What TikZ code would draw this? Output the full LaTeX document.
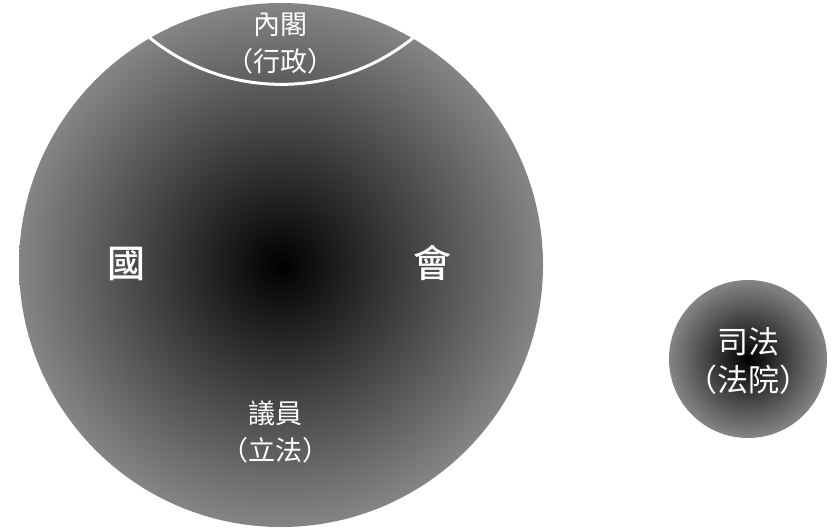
\documentclass[tikz,border=0pt]{standalone}
\usepackage{fontspec}
\setmainfont{Noto Sans CJK TC}
\newfontfamily\midfont{Noto Sans CJK TC Medium}
\usepackage{xcolor}
\definecolor{rimgray}{gray}{0.52}
\usepackage{tikz}

\tikzset{
  house/.style={circle, inner sep=0, draw=none, shade,
    inner color=black, outer color=rimgray},
  label/.style={text=white, align=center, font=\fontsize{27}{37}\selectfont},
  bigchar/.style={text=white, font=\midfont\fontsize{38}{40}\selectfont}
}

\begin{document}
\begin{tikzpicture}[x=1pt, y=-1pt]
    \useasboundingbox (0,0) rectangle (834,529);

    %  the diet, one big shaded disc
    \node [house, minimum size=524pt] (diet) at (281,265) {};

    %  cabinet cut off at the top
    \draw [white, line width=3pt] (diet.120.5)
      arc [start angle=231.1, end angle=308.9, radius=209.5pt];
    \node [label] (cabinet) at (280,43) {內閣\\（行政）};

    \node [bigchar] (guo) at (126,264) {國};
    \node [bigchar] (hui) at (432,263) {會};
    \node [label] (members) at (275,432) {議員\\（立法）};

    %  the courts, small disc on the right
    \node [house, minimum size=158pt] (court) at (748,359) {};
    \node [label, font=\fontsize{31}{38}\selectfont] (judiciary) at (748,361) {司法\\（法院）};
\end{tikzpicture}
\end{document}
